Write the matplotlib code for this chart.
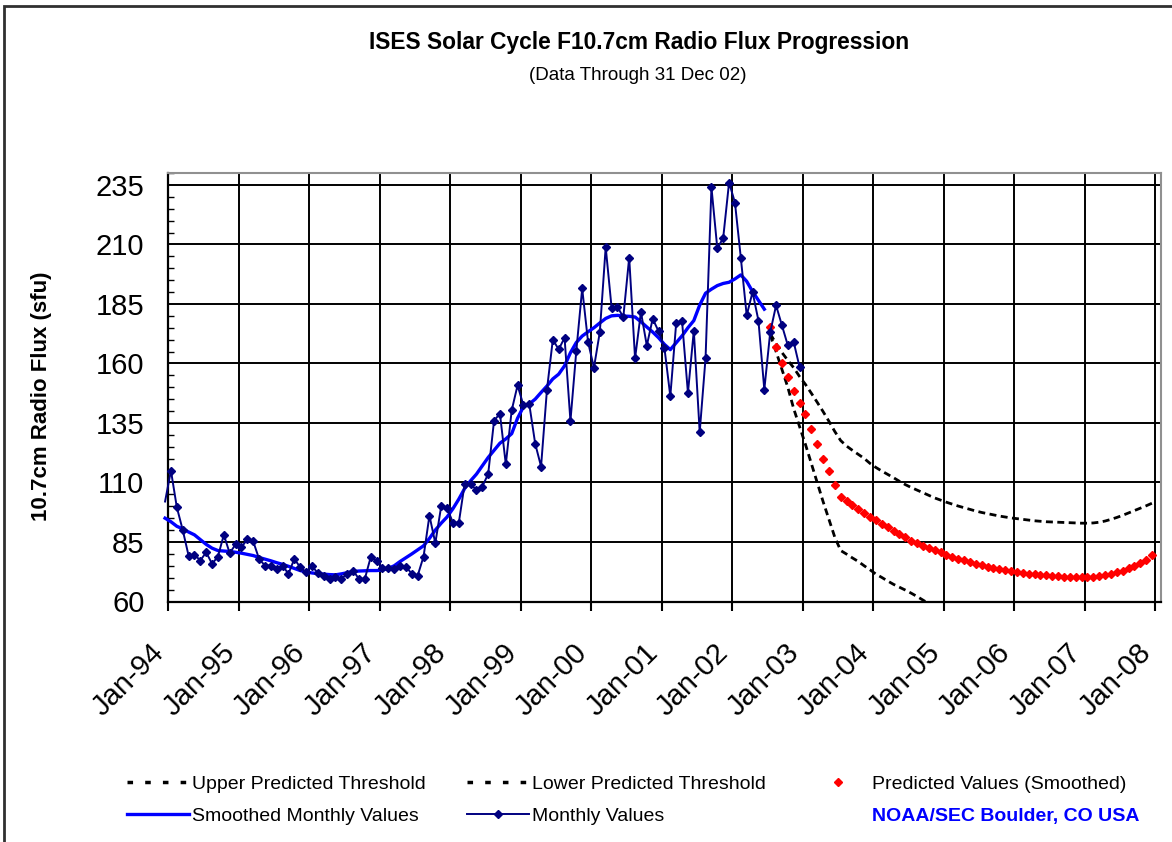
import numpy as np
import matplotlib
matplotlib.use("Agg")
import matplotlib.pyplot as plt
import matplotlib.transforms as mtransforms
from matplotlib.lines import Line2D
from matplotlib.patches import Rectangle
from matplotlib.font_manager import fontManager

# ---------------- data ----------------
MONTHLY_START = (1993, 12)
monthly_values = [
    102.0,
    115.0, 99.6, 90.1, 79.3, 79.7, 77.2, 80.7, 75.8, 78.9, 88.0, 80.3, 84.0,
    82.8, 86.1, 85.3, 77.9, 75.1, 75.1, 73.7, 75.1, 71.6, 77.9, 74.4, 72.3,
    75.0, 71.9, 70.9, 69.5, 70.5, 69.5, 71.6, 73.0, 69.5, 69.5, 78.6, 77.2,
    74.2, 74.2, 73.7, 75.1, 74.7, 71.6, 70.9, 78.9, 96.1, 84.5, 100.0, 99.3,
    93.1, 93.1, 109.5, 109.2, 106.9, 108.3, 113.6, 136.0, 138.9, 117.6, 140.3, 150.8,
    142.4, 142.8, 126.3, 116.7, 148.9, 170.0, 165.9, 170.8, 135.8, 165.3, 191.5, 169.0,
    158.2, 173.2, 208.9, 183.5, 183.8, 179.4, 204.5, 162.1, 181.6, 167.5, 178.8, 173.5,
    166.5, 146.2, 177.0, 177.7, 147.6, 173.8, 131.1, 162.3, 234.0, 208.3, 212.7, 236.0,
    227.6, 204.4, 180.2, 190.0, 178.0, 149.0, 173.0, 184.4, 176.0, 167.6, 169.0, 158.5,
]

SMOOTHED_START = (1993, 12)
smoothed_values = [
    95.0,
    93.5, 91.6, 90.5, 89.2, 88.0, 86.0, 84.0, 82.4, 81.4, 81.2, 81.0, 80.7,
    80.3, 79.8, 79.3, 78.5, 77.8, 77.1, 76.3, 75.6, 74.8, 73.9, 73.0, 72.4,
    72.0, 71.7, 71.5, 71.3, 71.2, 71.6, 72.1, 72.6, 72.8, 72.9, 73.0, 73.0,
    73.2, 73.9, 75.0, 76.8, 78.4, 80.0, 81.7, 83.4, 86.5, 90.0, 92.9, 95.5,
    99.0, 103.0, 107.5, 110.7, 113.5, 117.0, 120.5, 123.5, 126.5, 128.3, 130.5, 137.0,
    141.8, 143.0, 145.0, 147.8, 150.5, 153.5, 155.5, 159.0, 164.5, 168.8, 171.5, 173.3,
    175.0, 177.0, 178.9, 180.0, 180.2, 179.9, 179.8, 179.5, 177.5, 175.3, 173.2, 170.8,
    168.0, 165.8, 168.7, 171.6, 175.0, 178.0, 184.5, 189.5, 191.2, 192.7, 193.6, 194.1,
    195.5, 197.2, 194.5, 190.2, 186.5, 182.8,
]

PRED_START = (2002, 7)
predicted_values = [
    175.5, 167.0, 160.3, 154.4, 148.5, 143.5,
    138.7, 132.4, 126.3, 120.0, 114.8, 109.0, 103.8, 102.1, 100.4, 98.7, 97.1, 95.6,
    94.1, 92.6, 91.1, 89.7, 88.3, 86.9, 85.6, 84.5, 83.4, 82.4, 81.5, 80.6,
    79.5, 78.7, 78.0, 77.3, 76.6, 75.9, 75.2, 74.6, 74.1, 73.6, 73.2, 72.8,
    72.3, 71.9, 71.6, 71.4, 71.2, 71.0, 70.8, 70.6, 70.5, 70.4, 70.3, 70.2,
    70.2, 70.3, 70.6, 71.0, 71.6, 72.2, 73.0, 73.9, 74.9, 76.0, 77.5, 79.5,
]
upper_threshold = [
    172.5, 168.3, 164.6, 161.3, 158.2, 154.5,
    151.2, 147.5, 143.7, 139.8, 135.7, 131.4, 127.6, 125.3, 123.5, 121.8, 120.1, 118.0,
    116.3, 114.8, 113.4, 112.0, 110.5, 109.1, 107.9, 106.8, 105.7, 104.6, 103.5, 102.6,
    101.7, 100.9, 100.1, 99.4, 98.7, 98.0, 97.4, 96.9, 96.4, 95.9, 95.5, 95.1,
    94.8, 94.5, 94.2, 93.9, 93.7, 93.5, 93.4, 93.3, 93.2, 93.1, 93.0, 92.9,
    92.9, 93.0, 93.3, 93.8, 94.5, 95.3, 96.2, 97.2, 98.2, 99.2, 100.2, 101.3,
]
lower_threshold = [
    172.0, 165.0, 157.5, 150.0, 141.0, 133.5,
    126.0, 118.0, 110.0, 102.0, 94.5, 87.0, 81.4, 79.9, 78.3, 76.8, 75.0, 73.3,
    71.5, 70.1, 68.6, 67.2, 66.0, 64.8, 63.5, 62.1, 60.6, 59.1, 57.7,
]

year_ticks = list(range(1994, 2009))
year_labels = ["Jan-%02d" % (y % 100) for y in year_ticks]
y_ticks = [60, 85, 110, 135, 160, 185, 210, 235]


def month_positions(start, n):
    """Mid-month positions in decimal years."""
    y, m = start
    return y + (m - 1 + np.arange(n) + 0.5) / 12.0


# ---------------- fonts ----------------
names = {f.name for f in fontManager.ttflist}
NARROW = 'Liberation Sans Narrow' if 'Liberation Sans Narrow' in names else 'Liberation Sans'
REG = 'Liberation Sans'
plt.rcParams['font.family'] = [REG, 'DejaVu Sans']

W, H = 1172, 842
fig = plt.figure(figsize=(W / 100, H / 100), dpi=100)
fig.patch.set_facecolor('white')


def fx(px):
    return px / W


def fy(py):
    return 1 - py / H


# outer chart border (left and top visible)
fig.patches.append(Rectangle((fx(4), -0.2), 1.3, fy(6) + 0.2, transform=fig.transFigure,
                             fill=False, edgecolor='#303030', lw=2.0))

left, right, top, bottom = 168, 1161, 173, 601.5
ax = fig.add_axes([fx(left), fy(bottom), fx(right - left), (bottom - top) / H])
ax.set_facecolor('white')

x_mon = month_positions(MONTHLY_START, len(monthly_values))
x_smo = month_positions(SMOOTHED_START, len(smoothed_values))
x_pred = month_positions(PRED_START, len(predicted_values))
x_up = month_positions(PRED_START, len(upper_threshold))
x_lo = month_positions(PRED_START, len(lower_threshold))

xmax = 2008 + (right - 1155) / ((1155 - 168) / 14.0)
ax.set_xlim(1994, xmax)
ax.set_ylim(60, 240)

ax.plot(x_up, upper_threshold, color='black', lw=2.0, ls=(0, (2.5, 1.6)), zorder=3)
ax.plot(x_lo, lower_threshold, color='black', lw=2.0, ls=(0, (2.5, 1.6)), zorder=3)
ax.plot(x_pred, predicted_values, ls='none', marker='D', ms=3.6, color='#FF0000',
        mec='#FF0000', zorder=4)
ax.plot(x_smo, smoothed_values, color='#0000FF', lw=2.4, zorder=5, clip_on=False)
ax.plot(x_mon, monthly_values, color='#000080', lw=1.4, marker='D', ms=4.2,
        markevery=slice(1, None), zorder=6, clip_on=False)

# grid & axes
ax.set_xticks(year_ticks)
ax.set_xticklabels(year_labels)
ax.set_yticks(y_ticks)
ax.set_yticks(np.arange(60, 241, 5), minor=True)
ax.grid(True, which='major', color='black', lw=1.4, zorder=1)
ax.set_axisbelow(True)
for s in ['left', 'bottom']:
    ax.spines[s].set_color('black')
    ax.spines[s].set_linewidth(1.6)
for s in ['top', 'right']:
    ax.spines[s].set_color('#909090')
    ax.spines[s].set_linewidth(1.5)

ax.tick_params(axis='y', which='major', length=0, pad=17, labelsize=21)
ax.tick_params(axis='y', which='minor', direction='in', length=4.5, width=1.0, color='black')
ax.tick_params(axis='x', which='major', direction='out', length=6.5, width=1.5,
               color='black', labelsize=21, pad=27)
ax.tick_params(axis='x', which='minor', length=0)
shift = mtransforms.ScaledTranslation(-8 / 100, 0, fig.dpi_scale_trans)
for lab in ax.get_xticklabels():
    lab.set_rotation(45)
    lab.set_ha('right')
    lab.set_va('center')
    lab.set_rotation_mode('anchor')
    lab.set_transform(lab.get_transform() + shift)

# titles
fig.text(fx(639), fy(49), "ISES Solar Cycle F10.7cm Radio Flux Progression",
         family=NARROW, fontweight='bold', fontsize=16.4, ha='center', va='baseline')
fig.text(fx(638), fy(80), "(Data Through 31 Dec 02)", family=NARROW,
         fontsize=13.5, ha='center', va='baseline')
fig.text(fx(42), fy(396), "10.7cm Radio Flux (sfu)", family=REG, fontweight='bold',
         fontsize=16, rotation=90, ha='center', va='center')

# legend
h_up = Line2D([], [], color='black', lw=2.5, ls=(0, (1.6, 3.5)))
h_lo = Line2D([], [], color='black', lw=2.5, ls=(0, (1.6, 3.5)))
h_sm = Line2D([], [], color='#0000FF', lw=2.4)
h_mo = Line2D([], [], color='#000080', lw=1.4, marker='D', ms=4)
h_pr = Line2D([], [], color='#FF0000', ls='none', marker='D', ms=3.6)
h_no = Line2D([], [], color='none')
handles = [h_up, h_sm, h_lo, h_mo, h_pr, h_no]
labels = ["Upper Predicted Threshold", "Smoothed Monthly Values",
          "Lower Predicted Threshold", "Monthly Values",
          "Predicted Values (Smoothed)", "NOAA/SEC Boulder, CO USA"]
leg = fig.legend(handles, labels, ncol=3, loc='upper left',
                 bbox_to_anchor=(fx(127), fy(775)), frameon=False,
                 prop={'family': NARROW, 'size': 14}, handlelength=3.2,
                 handletextpad=0.15, columnspacing=2.1, labelspacing=0.75,
                 borderpad=0, borderaxespad=0)
t = leg.get_texts()[5]
t.set_color('#0000FF')
t.set_fontweight('bold')

fig.savefig('out.png', dpi=100, facecolor='white')
